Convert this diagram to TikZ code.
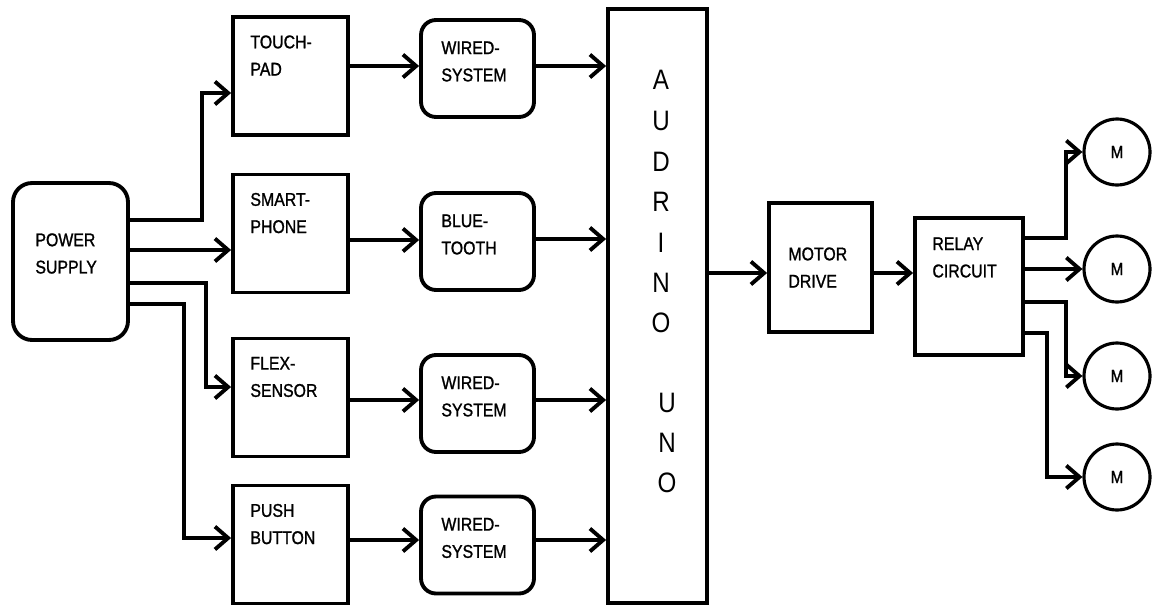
\documentclass[tikz,border=0pt]{standalone}
\usepackage{fontspec}
\setmainfont[FakeStretch=0.86]{Liberation Sans}
\newfontfamily\lblfont[FakeStretch=0.86, FakeBold=1.2]{Liberation Sans}
\usetikzlibrary{arrows.meta, positioning}

\tikzset{
  blk/.style={draw, line width=2.2pt, minimum width=2.3cm, minimum height=2.36cm},
  wsys/.style={draw, line width=2.2pt, rounded corners=0.3cm, minimum width=2.26cm, minimum height=1.94cm},
  txt/.style={inner sep=0pt, align=left, font=\lblfont\fontsize{10.5}{15.5}\selectfont},
  big/.style={inner sep=0pt, font=\fontsize{16}{16}\selectfont},
  arr/.style={line width=2.2pt, -{Straight Barb[length=7.5pt,width=13pt]}},
  motor/.style={draw, circle, line width=1.8pt, minimum size=1.32cm, inner sep=0pt, font=\lblfont\fontsize{10}{12}\selectfont},
}

\begin{document}
\begin{tikzpicture}[x=0.02cm, y=-0.02cm]
        \useasboundingbox (0,0) rectangle (1153,605);

        % power supply
        \node[draw, line width=2.2pt, rounded corners=0.38cm, minimum width=2.3cm, minimum height=3.14cm] (ps) at (70.5,261.5) {};
        \node[txt, anchor=west] (psl) at ([shift={(24,-8)}]ps.west) {POWER\\SUPPLY};

        % inputs
        \node[blk] (tp) at (290.5,76) {};
        \node[blk] (sp) at (290.5,233.5) {};
        \node[blk] (fs) at (290.5,397.5) {};
        \node[blk] (pb) at (290.5,544.5) {};
        \node[txt, anchor=north west] (tpl) at ([shift={(19,20)}]tp.north west) {TOUCH-\\PAD};
        \node[txt, anchor=north west] (spl) at ([shift={(19,20)}]sp.north west) {SMART-\\PHONE};
        \node[txt, anchor=north west] (fsl) at ([shift={(19,20)}]fs.north west) {FLEX-\\SENSOR};
        \node[txt, anchor=north west] (pbl) at ([shift={(19,20)}]pb.north west) {PUSH\\BUTTON};

        % links
        \node[wsys] (w1) at (477.5,68.5) {};
        \node[wsys] (bt) at (477.5,241.5) {};
        \node[wsys] (w2) at (477.5,403.5) {};
        \node[wsys] (w3) at (477.5,545) {};
        \node[txt, anchor=north west] (w1l) at ([shift={(22,23)}]w1.north west) {WIRED-\\SYSTEM};
        \node[txt, anchor=north west] (btl) at ([shift={(22,23)}]bt.north west) {BLUE-\\TOOTH};
        \node[txt, anchor=north west] (w2l) at ([shift={(22,23)}]w2.north west) {WIRED-\\SYSTEM};
        \node[txt, anchor=north west] (w3l) at ([shift={(22,23)}]w3.north west) {WIRED-\\SYSTEM};

        % controller
        \node[draw, line width=2.2pt, minimum width=1.98cm, minimum height=11.88cm] (au) at (657.5,306) {};
        \foreach \ch/\y in {A/80,U/121,D/162,R/202,I/243,N/283,O/323}
            \node[big] (a\y) at (661,\y) {\ch};
        \foreach \ch/\y in {U/403,N/443,O/483}
            \node[big] (u\y) at (667,\y) {\ch};

        % outputs
        \node[draw, line width=2.2pt, minimum width=2.06cm, minimum height=2.58cm] (md) at (820.5,267.5) {};
        \node[txt, anchor=west] (mdl) at ([shift={(21,0)}]md.west) {MOTOR\\DRIVE};
        \node[draw, line width=2.2pt, minimum width=2.16cm, minimum height=2.74cm] (rc) at (969,286.5) {};
        \node[txt, anchor=north west] (rcl) at ([shift={(19,21)}]rc.north west) {RELAY\\CIRCUIT};
        \node[motor] (m1) at (1117,152) {M};
        \node[motor] (m2) at (1117,269) {M};
        \node[motor] (m3) at (1117,376) {M};
        \node[motor] (m4) at (1117,477) {M};

        % arrows
        \draw[arr] (ps.east |- 0,220) -- ++(72,0) |- (tp.west |- 0,93);
        \draw[arr] (ps.east |- 0,250) -- (sp.west |- 0,250);
        \draw[arr] (ps.east |- 0,283) -- ++(76,0) |- (fs.west |- 0,387);
        \draw[arr] (ps.east |- 0,304) -- ++(54,0) |- (pb.west |- 0,538);

        \draw[arr] (tp.east |- 0,66) -- (w1.west |- 0,66);
        \draw[arr] (sp.east |- 0,240) -- (bt.west |- 0,240);
        \draw[arr] (fs.east |- 0,400) -- (w2.west |- 0,400);
        \draw[arr] (pb.east |- 0,540) -- (w3.west |- 0,540);

        \draw[arr] (w1.east |- 0,66) -- (au.west |- 0,66);
        \draw[arr] (bt.east |- 0,239) -- (au.west |- 0,239);
        \draw[arr] (w2.east |- 0,400) -- (au.west |- 0,400);
        \draw[arr] (w3.east |- 0,540) -- (au.west |- 0,540);

        \draw[arr] (au.east |- 0,273) -- (md.west |- 0,273);
        \draw[arr] (md.east |- 0,273) -- (rc.west |- 0,273);

        \draw[arr] (rc.east |- 0,238) -- ++(41,0) |- (m1);
        \draw[arr] (rc.east |- m2) -- (m2);
        \draw[arr] (rc.east |- 0,302) -- ++(41,0) |- (m3);
        \draw[arr] (rc.east |- 0,333) -- ++(22,0) |- (m4);
\end{tikzpicture}
\end{document}
